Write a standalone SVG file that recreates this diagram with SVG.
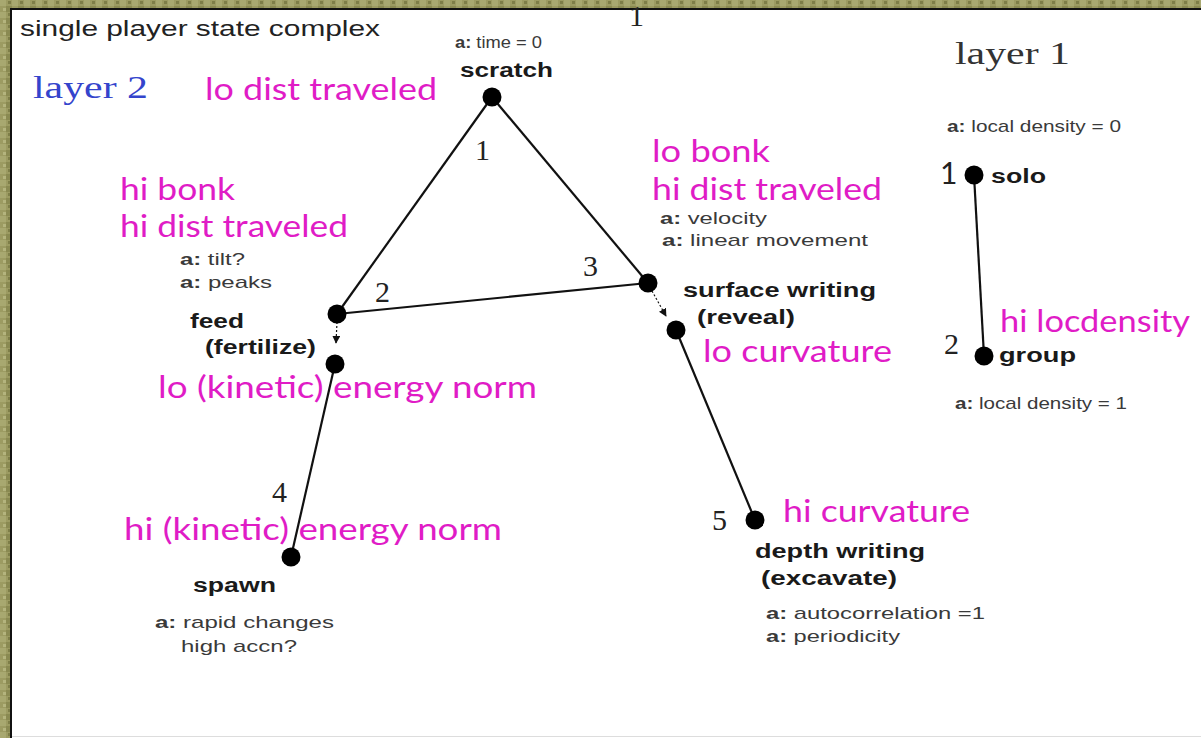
<svg xmlns="http://www.w3.org/2000/svg" width="1201" height="738" viewBox="0 0 1201 738">
<defs>
<pattern id="tex" width="12" height="12" patternUnits="userSpaceOnUse">
<rect width="12" height="12" fill="#9c9b62"/>
<rect x="0" y="0" width="6" height="6" fill="#a8a870"/>
<rect x="6" y="6" width="6" height="6" fill="#8a8a52"/>
<rect x="3" y="8" width="3" height="3" fill="#b4b47e"/>
<rect x="8" y="1" width="3" height="3" fill="#7e7e48"/>
</pattern>
<marker id="ah" viewBox="0 0 10 10" refX="9" refY="5" markerWidth="8" markerHeight="8" orient="auto" markerUnits="userSpaceOnUse">
<path d="M0,0 L10,5 L0,10 Z" fill="#111"/>
</marker>
<style>
.lbl{font-family:"Liberation Sans",Arial,sans-serif;fill:#222}
.small{font-size:17px;fill:#3a3a3a}
.bold{font-weight:bold;font-size:20px;fill:#1a1a1a}
.pink{font-family:Lato,"Open Sans",sans-serif;font-size:30px;fill:#e01cc6}
.num{font-family:"Liberation Serif","Times New Roman",serif;font-size:30px;fill:#222}
.edge{stroke:#111;stroke-width:2.2;fill:none}
.dot{fill:#000}
</style>
</defs>
<rect width="1201" height="738" fill="#ffffff"/>
<rect x="0" y="0" width="1201" height="8" fill="url(#tex)"/>
<rect x="0" y="0" width="10" height="738" fill="url(#tex)"/>
<rect x="10" y="8" width="1191" height="2" fill="#111"/>
<rect x="10" y="8" width="2" height="730" fill="#111"/>
<rect x="12" y="736" width="1189" height="1" fill="#ddd"/>
<text class="num" x="629" y="26" font-size="18">1</text>

<text class="lbl" x="20" y="36" font-size="22" fill="#333" textLength="360" lengthAdjust="spacingAndGlyphs">single player state complex</text>
<text x="33" y="98" font-family="Liberation Serif,serif" font-size="32" fill="#3444cc" textLength="115" lengthAdjust="spacingAndGlyphs">layer 2</text>
<text x="955" y="64" font-family="Liberation Serif,serif" font-size="32" fill="#333" textLength="115" lengthAdjust="spacingAndGlyphs">layer 1</text>

<g id="connectors">
<line class="edge" x1="492" y1="97" x2="337" y2="314"/>
<line class="edge" x1="492" y1="97" x2="648" y2="283"/>
<line class="edge" x1="337" y1="314" x2="648" y2="283"/>
<line x1="337" y1="322" x2="336" y2="343" stroke="#111" stroke-width="1.2" stroke-dasharray="2 2" marker-end="url(#ah)"/>
<line x1="652" y1="291" x2="666" y2="316" stroke="#111" stroke-width="1.2" stroke-dasharray="2 2" marker-end="url(#ah)"/>
<line class="edge" x1="335" y1="364" x2="291" y2="557"/>
<line class="edge" x1="676" y1="330" x2="755" y2="520"/>
<line class="edge" x1="974" y1="175" x2="984" y2="356"/>
</g>

<g id="node-scratch">
<circle class="dot" cx="492" cy="97" r="9.5"/>
<text class="lbl small" x="455" y="48" textLength="87" lengthAdjust="spacingAndGlyphs"><tspan font-weight="bold">a:</tspan> time = 0</text>
<text class="lbl bold" x="460" y="77" textLength="93" lengthAdjust="spacingAndGlyphs">scratch</text>
<text class="pink" x="205" y="100" textLength="232" lengthAdjust="spacingAndGlyphs">lo dist traveled</text>
<text class="num" x="475" y="160">1</text>
</g>

<g id="node-feed">
<circle class="dot" cx="337" cy="314" r="9.5"/>
<circle class="dot" cx="335" cy="364" r="9.5"/>
<text class="pink" x="120" y="200" textLength="115" lengthAdjust="spacingAndGlyphs">hi bonk</text>
<text class="pink" x="120" y="237" textLength="228" lengthAdjust="spacingAndGlyphs">hi dist traveled</text>
<text class="lbl small" x="180" y="265" textLength="65" lengthAdjust="spacingAndGlyphs"><tspan font-weight="bold">a:</tspan> tilt?</text>
<text class="lbl small" x="180" y="288" textLength="92" lengthAdjust="spacingAndGlyphs"><tspan font-weight="bold">a:</tspan> peaks</text>
<text class="num" x="375" y="302">2</text>
<text class="lbl bold" x="190" y="328" textLength="54" lengthAdjust="spacingAndGlyphs">feed</text>
<text class="lbl bold" x="205" y="354" textLength="111" lengthAdjust="spacingAndGlyphs">(fertilize)</text>
<text class="pink" x="158" y="398" textLength="379" lengthAdjust="spacingAndGlyphs">lo (kinetic) energy norm</text>
</g>

<g id="node-surface">
<circle class="dot" cx="648" cy="283" r="9.5"/>
<circle class="dot" cx="676" cy="330" r="9.5"/>
<text class="num" x="583" y="276">3</text>
<text class="pink" x="652" y="162" textLength="118" lengthAdjust="spacingAndGlyphs">lo bonk</text>
<text class="pink" x="652" y="200" textLength="230" lengthAdjust="spacingAndGlyphs">hi dist traveled</text>
<text class="lbl small" x="660" y="224" textLength="107" lengthAdjust="spacingAndGlyphs"><tspan font-weight="bold">a:</tspan> velocity</text>
<text class="lbl small" x="662" y="246" textLength="206" lengthAdjust="spacingAndGlyphs"><tspan font-weight="bold">a:</tspan> linear movement</text>
<text class="lbl bold" x="683" y="297" textLength="193" lengthAdjust="spacingAndGlyphs">surface writing</text>
<text class="lbl bold" x="697" y="324" textLength="98" lengthAdjust="spacingAndGlyphs">(reveal)</text>
<text class="pink" x="703" y="362" textLength="189" lengthAdjust="spacingAndGlyphs">lo curvature</text>
</g>

<g id="node-spawn">
<circle class="dot" cx="291" cy="557" r="9.5"/>
<text class="num" x="272" y="502">4</text>
<text class="pink" x="124" y="540" textLength="378" lengthAdjust="spacingAndGlyphs">hi (kinetic) energy norm</text>
<text class="lbl bold" x="193" y="592" textLength="83" lengthAdjust="spacingAndGlyphs">spawn</text>
<text class="lbl small" x="155" y="628" textLength="179" lengthAdjust="spacingAndGlyphs"><tspan font-weight="bold">a:</tspan> rapid changes</text>
<text class="lbl small" x="181" y="652" textLength="116" lengthAdjust="spacingAndGlyphs">high accn?</text>
</g>

<g id="node-depth">
<circle class="dot" cx="755" cy="520" r="9.5"/>
<text class="num" x="712" y="530">5</text>
<text class="pink" x="783" y="522" textLength="187" lengthAdjust="spacingAndGlyphs">hi curvature</text>
<text class="lbl bold" x="755" y="558" textLength="170" lengthAdjust="spacingAndGlyphs">depth writing</text>
<text class="lbl bold" x="761" y="585" textLength="136" lengthAdjust="spacingAndGlyphs">(excavate)</text>
<text class="lbl small" x="766" y="619" textLength="219" lengthAdjust="spacingAndGlyphs"><tspan font-weight="bold">a:</tspan> autocorrelation =1</text>
<text class="lbl small" x="766" y="642" textLength="134" lengthAdjust="spacingAndGlyphs"><tspan font-weight="bold">a:</tspan> periodicity</text>
</g>

<g id="node-solo">
<circle class="dot" cx="974" cy="175" r="9.5"/>
<text class="lbl small" x="947" y="132" textLength="174" lengthAdjust="spacingAndGlyphs"><tspan font-weight="bold">a:</tspan> local density = 0</text>
<text x="940" y="184" font-family="Lato,sans-serif" font-size="30" fill="#222">1</text>
<text class="lbl bold" x="991" y="183" textLength="55" lengthAdjust="spacingAndGlyphs">solo</text>
</g>

<g id="node-group">
<circle class="dot" cx="984" cy="356" r="9.5"/>
<text class="num" x="944" y="354">2</text>
<text class="pink" x="1000" y="332" textLength="190" lengthAdjust="spacingAndGlyphs">hi locdensity</text>
<text class="lbl bold" x="999" y="362" textLength="77" lengthAdjust="spacingAndGlyphs">group</text>
<text class="lbl small" x="955" y="409" textLength="172" lengthAdjust="spacingAndGlyphs"><tspan font-weight="bold">a:</tspan> local density = 1</text>
</g>
</svg>
